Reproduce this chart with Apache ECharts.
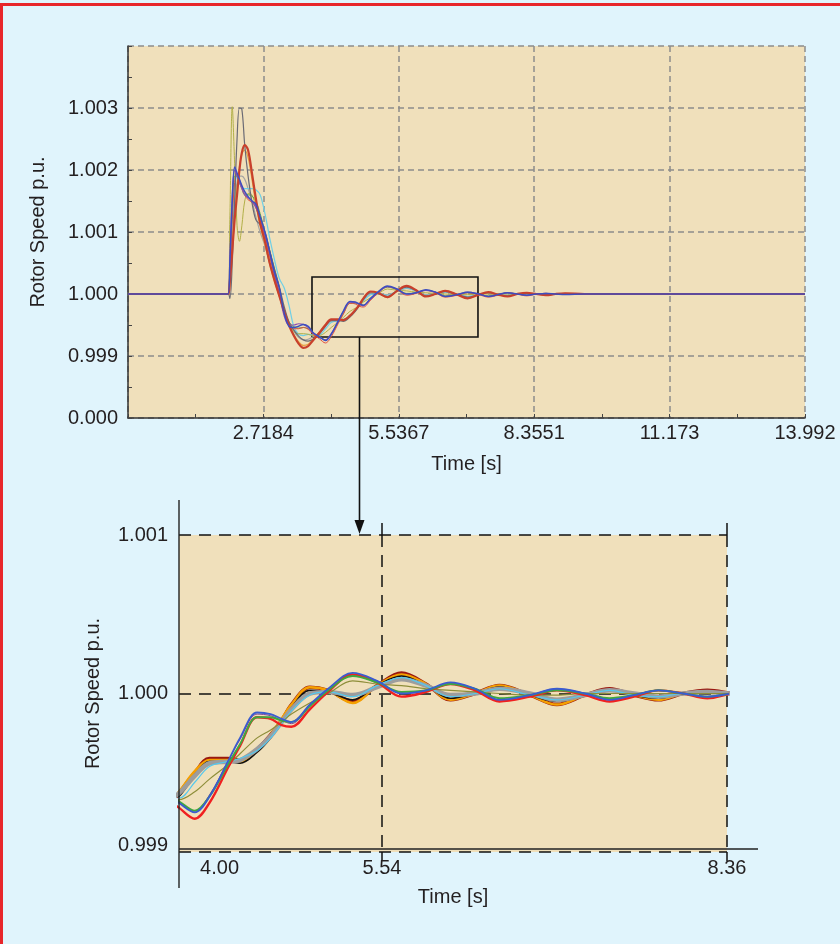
<!DOCTYPE html>
<html><head><meta charset="utf-8">
<script src="https://cdn.jsdelivr.net/npm/echarts@6/dist/echarts.min.js"></script>
<style>html,body{margin:0;padding:0;background:#e0f4fc;} #c{width:840px;height:944px;}</style>
</head><body><div id="c"></div>
<script>
// ---- data ----
const T = [-0.0999, 1.98, 2.02, 2.07, 2.12, 2.17, 2.22, 2.27, 2.33, 2.4,
 2.48, 2.56, 2.65, 2.75, 2.85, 2.95, 3.05, 3.15, 3.25, 3.35,
 3.45, 3.55, 3.65, 3.75, 3.88, 4.01, 4.13, 4.28, 4.38, 4.52,
 4.63, 4.72, 4.8, 4.95, 5.1, 5.3, 5.5, 5.7, 5.9, 6.1,
 6.3, 6.5, 6.75, 6.97, 7.2, 7.4, 7.6, 7.8, 8.0, 8.2,
 8.4, 8.6, 8.8, 9.0, 9.4, 9.8, 10.4, 11.0, 12.0, 13.992];

const genA1 = [1.0, 1.0, 1.0002, 1.0007, 1.0012, 1.0016, 1.002, 1.00228, 1.0024, 1.00232,
 1.00195, 1.00155, 1.00115, 1.00085, 1.0005, 1.00022, 0.99997, 0.99972, 0.9995, 0.99933,
 0.9992, 0.99913, 0.99916, 0.99925, 0.99937, 0.9995, 0.99959, 0.99959, 0.99958, 0.99965,
 0.99974, 0.99983, 0.99993, 1.00004, 1.00002, 0.99995, 1.00005, 1.00013, 1.00006, 0.99996,
 1.0, 1.00005, 0.99999, 0.99993, 0.99999, 1.00003, 0.99999, 0.99996, 1.0, 1.00002,
 1.0, 0.99998, 1.0, 1.00001, 1.0, 1.0, 1.0, 1.0, 1.0, 1.0];
const genA2 = [1.0, 1.0, 1.0002, 1.0008, 1.0013, 1.0017, 1.00205, 1.00225, 1.00232, 1.0022,
 1.00185, 1.00145, 1.0011, 1.0008, 1.00048, 1.0002, 0.99996, 0.99972, 0.99952, 0.99935,
 0.99923, 0.99917, 0.99919, 0.99927, 0.99938, 0.99951, 0.99958, 0.99958, 0.99957, 0.99964,
 0.99974, 0.99984, 0.99993, 1.00004, 1.00002, 0.99994, 1.00005, 1.00012, 1.00006, 0.99996,
 1.0, 1.00005, 0.99999, 0.99993, 0.99999, 1.00002, 0.99999, 0.99996, 1.0, 1.00001,
 1.0, 0.99998, 1.0, 1.00001, 1.0, 1.0, 1.0, 1.0, 1.0, 1.0];
const genA3 = [1.0, 1.0, 0.99993, 1.0005, 1.0015, 1.0025, 1.003, 1.00298, 1.0024, 1.0019,
 1.00148, 1.0012, 1.00112, 1.001, 1.0007, 1.0004, 1.00012, 0.9998, 0.99955, 0.99942,
 0.99932, 0.99926, 0.99924, 0.99927, 0.99935, 0.99948, 0.99957, 0.99957, 0.99956, 0.99963,
 0.99972, 0.99982, 0.99991, 1.00002, 1.00001, 0.99996, 1.00005, 1.00011, 1.00005, 0.99997,
 1.0, 1.00004, 0.99999, 0.99995, 0.99999, 1.00002, 0.99999, 0.99997, 1.0, 1.00001,
 1.0, 0.99999, 1.0, 1.0, 1.0, 1.0, 1.0, 1.0, 1.0, 1.0];
const genA4 = [1.0, 1.0, 1.0003, 1.001, 1.0015, 1.0018, 1.0019, 1.0019, 1.00185, 1.0017,
 1.0015, 1.00125, 1.001, 1.00078, 1.0005, 1.00025, 1.0, 0.99975, 0.99955, 0.9994,
 0.9993, 0.99926, 0.99927, 0.99931, 0.99937, 0.99948, 0.99956, 0.99957, 0.99958, 0.99965,
 0.99973, 0.99982, 0.9999, 1.0, 1.00001, 0.99999, 1.00004, 1.00009, 1.00005, 0.99999,
 1.0, 1.00003, 1.0, 0.99996, 0.99999, 1.00002, 1.0, 0.99998, 1.0, 1.00001,
 1.0, 1.0, 1.0, 1.0, 1.0, 1.0, 1.0, 1.0, 1.0, 1.0];
const genA5 = [1.0, 1.0, 1.0004, 1.0012, 1.0017, 1.0019, 1.0018, 1.00172, 1.0017, 1.0017,
 1.0017, 1.00168, 1.0016, 1.0013, 1.0009, 1.00055, 1.00025, 1.0001, 0.99982, 0.99948,
 0.99935, 0.99933, 0.99935, 0.99934, 0.99934, 0.99944, 0.99954, 0.99957, 0.99959, 0.99964,
 0.99972, 0.99981, 0.99989, 0.99999, 1.00001, 0.99998, 1.00005, 1.0001, 1.00005, 0.99998,
 1.0, 1.00003, 0.99999, 0.99996, 0.99999, 1.00002, 0.99999, 0.99998, 1.0, 1.0,
 1.0, 1.0, 1.0, 1.0, 1.0, 1.0, 1.0, 1.0, 1.0, 1.0];
const genM = [1.0, 1.0, 1.0012, 1.00302, 1.0021, 1.0011, 1.00085, 1.0011, 1.0015, 1.00162,
 1.0016, 1.0014, 1.0012, 1.0009, 1.0006, 1.0003, 1.00002, 0.99975, 0.99953, 0.9994,
 0.99936, 0.99936, 0.99935, 0.99933, 0.99933, 0.99938, 0.99946, 0.99955, 0.99962, 0.99972,
 0.99977, 0.99982, 0.99987, 0.99994, 1.0, 1.00008, 1.00006, 1.00005, 1.00003, 1.00002,
 1.00001, 1.0, 0.99999, 0.99999, 1.0, 1.0, 1.0, 1.0, 1.0, 1.0,
 1.0, 1.0, 1.0, 1.0, 1.0, 1.0, 1.0, 1.0, 1.0, 1.0];
const genB1 = [1.0, 1.0, 1.0004, 1.0013, 1.0019, 1.0019, 1.0018, 1.0017, 1.0016, 1.0016,
 1.00158, 1.0015, 1.0013, 1.001, 1.0007, 1.0004, 1.0001, 0.99975, 0.99955, 0.99947,
 0.99945, 0.99946, 0.99944, 0.99937, 0.99932, 0.99926, 0.99935, 0.99955, 0.99968, 0.99985,
 0.99985, 0.99983, 0.99982, 0.99992, 1.00002, 1.00011, 1.00007, 1.00001, 1.00002, 1.00006,
 1.00003, 0.99997, 0.99999, 1.00002, 1.0, 0.99997, 0.99999, 1.00002, 1.0, 0.99998,
 1.0, 1.00001, 1.0, 1.0, 1.0, 1.0, 1.0, 1.0, 1.0, 1.0];
const genB2 = [1.0, 1.0, 1.0003, 1.0012, 1.0018, 1.00195, 1.00185, 1.00172, 1.0016, 1.00152,
 1.00148, 1.0014, 1.0012, 1.00095, 1.00062, 1.0003, 1.00002, 0.99968, 0.9995, 0.99944,
 0.99944, 0.99946, 0.99943, 0.99935, 0.99928, 0.99921, 0.99931, 0.99953, 0.99967, 0.99985,
 0.99984, 0.9998, 0.99979, 0.9999, 1.00001, 1.00012, 1.00007, 0.99998, 1.00001, 1.00006,
 1.00002, 0.99995, 0.99998, 1.00002, 0.99999, 0.99995, 0.99998, 1.00002, 1.0, 0.99997,
 1.0, 1.00001, 1.0, 1.0, 1.0, 1.0, 1.0, 1.0, 1.0, 1.0];
const genB3 = [1.0, 1.0, 1.0005, 1.0015, 1.00205, 1.00195, 1.00185, 1.00175, 1.00165, 1.00157,
 1.0015, 1.00145, 1.00125, 1.001, 1.00068, 1.00035, 1.0001, 0.9997, 0.99948, 0.99946,
 0.99948, 0.99951, 0.99948, 0.99938, 0.99931, 0.99925, 0.99935, 0.99957, 0.99972, 0.99988,
 0.99987, 0.99984, 0.99982, 0.99993, 1.00003, 1.00013, 1.00008, 1.0, 1.00002, 1.00007,
 1.00003, 0.99996, 0.99999, 1.00003, 1.0, 0.99996, 0.99999, 1.00002, 1.0, 0.99998,
 1.0, 1.00001, 1.0, 0.99999, 1.0, 1.0, 1.0, 1.0, 1.0, 1.0];
const genB4 = [1.0, 1.0, 1.0006, 1.0016, 1.002, 1.0019, 1.0018, 1.0017, 1.0016, 1.00155,
 1.0015, 1.0014, 1.0012, 1.00095, 1.00065, 1.0003, 1.0, 0.99965, 0.9995, 0.9995,
 0.99952, 0.99951, 0.99946, 0.99937, 0.99931, 0.99926, 0.99936, 0.99957, 0.99971, 0.99987,
 0.99986, 0.99983, 0.99981, 0.99992, 1.00002, 1.00012, 1.00008, 1.0, 1.00002, 1.00006,
 1.00003, 0.99996, 0.99999, 1.00003, 1.0, 0.99996, 0.99999, 1.00002, 1.0, 0.99998,
 1.0, 1.00001, 1.0, 1.0, 1.0, 1.0, 1.0, 1.0, 1.0, 1.0];

// axis ticks / labels
const topXTicks = [-0.0999, 2.7184, 5.5367, 8.3551, 11.173, 13.992];
const topXLabels = [2.7184, 5.5367, 8.3551, 11.173, 13.992];
const topYRange = [0.998, 1.004];
const topYLabelMap = {'0.998': '0.000'};
const zoomXRange = [3.881, 8.36];
const zoomXTicks = [5.54, 8.36];
const zoomXLabels = [4.00, 5.54, 8.36];
const zoomYRange = [0.999, 1.001];
const zoomBox = [3.73, 7.185, 0.999306, 1.000274];
const arrowT = 4.71;

// ---- chart ----
const FONT = 'Liberation Sans';
const TXT = '#231f20';
const FS = 20;
const chart = echarts.init(document.getElementById('c'));

const pairs = arr => T.map((t, i) => [t, arr[i]]);

const topOrder = [
  [genA4, '#a4a4a4', 1.2], [genA5, '#6fcfe6', 1.2], [genM, '#b2b048', 1.0],
  [genB1, '#5aa84a', 1.0], [genA2, '#e8a040', 1.2], [genB2, '#e05040', 1.0],
  [genA3, '#6a6a74', 1.2], [genB4, '#8a50b0', 1.2], [genA1, '#c8402c', 2.2],
  [genB3, '#3c4ec0', 1.5]
];
const botOrder = [
  [genA1, '#9a1810', 3.5], [genA2, '#f5a000', 2.5], [genA3, '#111111', 1.6],
  [genA4, '#9d9d9d', 4.5], [genA5, '#55c8ee', 1.2], [genM, '#8e8e3a', 1.2],
  [genB4, '#7b3f9e', 1.0], [genB2, '#f02020', 2.4], [genB1, '#3fa83f', 2.0],
  [genB3, '#3a5cd0', 1.8]
];

const series = [];
topOrder.forEach((s, i) => {
  series.push({
    type: 'line', xAxisIndex: 0, yAxisIndex: 0, data: pairs(s[0]),
    showSymbol: false, symbol: 'none', smooth: 0.35, silent: true,
    lineStyle: {color: s[1], width: s[2]}, itemStyle: {color: s[1]},
    markArea: i === topOrder.length - 1 ? {
      silent: true, label: {show: false},
      itemStyle: {color: 'rgba(0,0,0,0)', borderColor: '#111', borderWidth: 1.6},
      data: [[{coord: [zoomBox[0], zoomBox[2]]}, {coord: [zoomBox[1], zoomBox[3]]}]]
    } : undefined
  });
});
botOrder.forEach(s => {
  series.push({
    type: 'line', xAxisIndex: 2, yAxisIndex: 1, data: pairs(s[0]),
    showSymbol: false, symbol: 'none', smooth: 0.35, silent: true, clip: true,
    lineStyle: {color: s[1], width: s[2]}, itemStyle: {color: s[1]}
  });
});

const midTicks = [];
for (let i = 0; i < topXTicks.length - 1; i++) midTicks.push((topXTicks[i] + topXTicks[i + 1]) / 2);

const gridLineTop = {show: true, lineStyle: {color: '#8c8c8c', type: [6, 4], width: 1.5}};
const gridLineBot = {show: true, lineStyle: {color: '#111', type: [12, 8], width: 1.5}};
const lbl = {fontFamily: FONT, fontSize: FS, color: TXT};

const option = {
  animation: false,
  backgroundColor: '#e0f4fc',
  textStyle: {fontFamily: FONT},
  grid: [
    {left: 128, top: 46, width: 677, height: 372, show: true, backgroundColor: '#f0e0bb', borderWidth: 0, containLabel: false, outerBoundsMode: 'none'},
    {left: 179, top: 535, width: 548, height: 317, show: true, backgroundColor: '#f0e0bb', borderWidth: 0, containLabel: false, outerBoundsMode: 'none'}
  ],
  xAxis: [
    {gridIndex: 0, type: 'value', min: -0.0999, max: 13.992,
     axisLine: {show: true, onZero: false, lineStyle: {color: '#333', width: 1.5}},
     axisTick: {show: true, inside: true, length: 4, customValues: topXTicks, lineStyle: {color: '#444'}},
     axisLabel: Object.assign({customValues: topXLabels, margin: 5, formatter: v => String(v)}, lbl),
     splitLine: gridLineTop,
     name: 'Time [s]', nameLocation: 'middle', nameGap: 36, nameTextStyle: lbl},
    {gridIndex: 0, type: 'value', min: -0.0999, max: 13.992, position: 'bottom',
     axisLine: {show: false}, axisLabel: {show: false}, splitLine: {show: false},
     axisTick: {show: true, inside: true, length: 4, customValues: midTicks, lineStyle: {color: '#444'}}},
    {gridIndex: 1, type: 'value', min: zoomXRange[0], max: zoomXRange[1],
     axisLine: {show: false},
     axisTick: {show: true, inside: false, length: 9, customValues: zoomXTicks, lineStyle: {color: '#111', width: 1.5}},
     axisLabel: Object.assign({customValues: zoomXLabels, margin: 6,
       formatter: v => Math.abs(v - zoomXLabels[0]) < 1e-6 ? '{a|' + v.toFixed(2) + '}' : v.toFixed(2),
       rich: {a: {fontFamily: FONT, fontSize: FS, color: TXT, padding: [0, 0, 0, 52]}}}, lbl),
     splitLine: gridLineBot,
     name: 'Time [s]', nameLocation: 'middle', nameGap: 35, nameTextStyle: lbl},
    {gridIndex: 1, type: 'value', min: zoomXRange[0], max: zoomXRange[1], position: 'top',
     axisLine: {show: false}, axisLabel: {show: false}, splitLine: {show: false},
     axisTick: {show: true, inside: false, length: 16, customValues: zoomXTicks, lineStyle: {color: '#111', width: 1.5, type: [12, 8]}}}
  ],
  yAxis: [
    {gridIndex: 0, type: 'value', min: topYRange[0], max: topYRange[1], interval: 0.001,
     axisLine: {show: true, onZero: false, lineStyle: {color: '#333', width: 1.5}},
     axisTick: {show: true, inside: true, length: 4, lineStyle: {color: '#444'}},
     minorTick: {show: true, splitNumber: 2, length: 4, lineStyle: {color: '#444'}},
     minorSplitLine: {show: false},
     axisLabel: Object.assign({margin: 10, formatter: v => {
       const k = v.toFixed(3);
       if (topYLabelMap[k]) return topYLabelMap[k];
       if (v > 1.0035) return '';
       return k;
     }}, lbl),
     splitLine: gridLineTop,
     name: 'Rotor Speed p.u.', nameLocation: 'middle', nameGap: 80, nameTextStyle: lbl},
    {gridIndex: 1, type: 'value', min: zoomYRange[0], max: zoomYRange[1], interval: 0.001,
     axisLine: {show: false}, axisTick: {show: false},
     axisLabel: Object.assign({margin: 11, formatter: v => {
       const k = v.toFixed(3);
       return v < 0.9995 ? '{b|' + k + '}' : k;
     }, rich: {b: {fontFamily: FONT, fontSize: FS, color: TXT, padding: [0, 0, 14, 0]}}}, lbl),
     splitLine: gridLineBot,
     name: 'Rotor Speed p.u.', nameLocation: 'middle', nameGap: 76, nameTextStyle: lbl}
  ],
  series: series
};
chart.setOption(option);

// annotations computed from axis scales
const pA = chart.convertToPixel({xAxisIndex: 0, yAxisIndex: 0}, [arrowT, zoomBox[2]]);
const xL = chart.convertToPixel({xAxisIndex: 2}, zoomXRange[0]);
const xR = chart.convertToPixel({xAxisIndex: 2}, zoomXRange[1]);
const yT = chart.convertToPixel({yAxisIndex: 1}, zoomYRange[1]);
const yB = chart.convertToPixel({yAxisIndex: 1}, zoomYRange[0]);
const ax = Math.round(pA[0]) + 0.5;
chart.setOption({
  graphic: [
    {type: 'rect', shape: {x: 0, y: 3, width: 840, height: 3}, style: {fill: '#e8262a'}, z: 100},
    {type: 'rect', shape: {x: 0, y: 3, width: 3, height: 941}, style: {fill: '#e8262a'}, z: 100},
    {type: 'line', shape: {x1: ax, y1: pA[1], x2: ax, y2: yT - 12}, style: {stroke: '#111', lineWidth: 1.6}, z: 100},
    {type: 'polygon', shape: {points: [[ax - 5, yT - 15], [ax + 5, yT - 15], [ax, yT - 1]]}, style: {fill: '#111'}, z: 100},
    {type: 'line', shape: {x1: xL, y1: yT - 35, x2: xL, y2: yB + 36}, style: {stroke: '#222', lineWidth: 1.4}, z: 100},
    {type: 'line', shape: {x1: xL, y1: yB - 3, x2: xR + 31, y2: yB - 3}, style: {stroke: '#222', lineWidth: 1.4}, z: 100}
  ]
});
</script></body></html>
